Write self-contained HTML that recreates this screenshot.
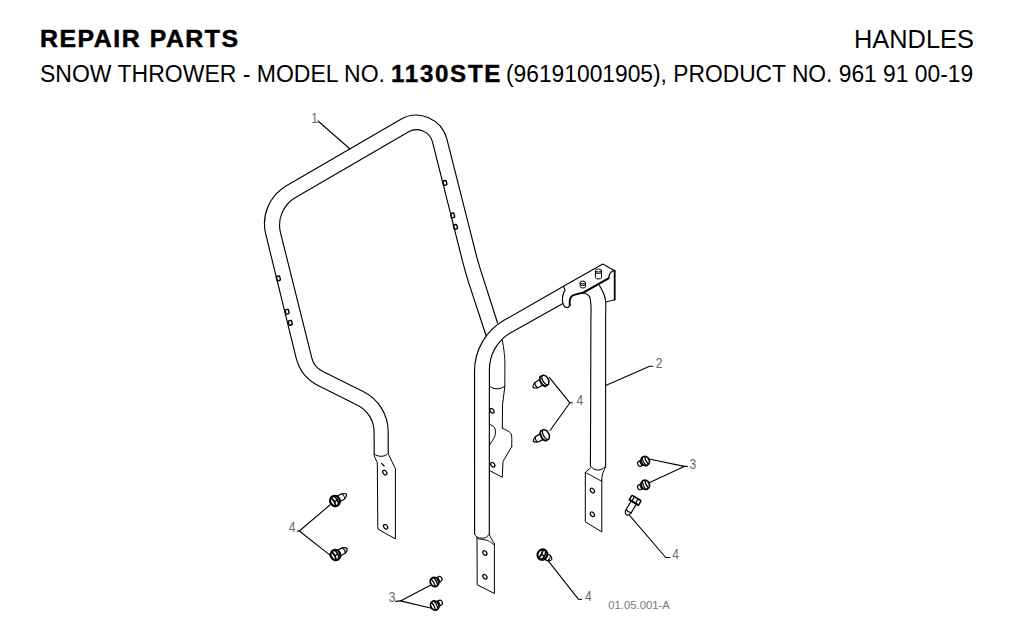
<!DOCTYPE html>
<html><head><meta charset="utf-8"><style>
html,body{margin:0;padding:0;background:#fff;}
body{width:1024px;height:631px;position:relative;overflow:hidden;font-family:"Liberation Sans",sans-serif;color:#000;}
.t{position:absolute;white-space:nowrap;line-height:1;transform-origin:0 0;}
</style></head><body>
<div class="t" id="rp" style="left:40px;top:27.4px;font-size:24.4px;font-weight:bold;letter-spacing:1.48px;transform:scaleX(1.02);-webkit-text-stroke:0.5px #000;">REPAIR PARTS</div>
<div class="t" id="hd" style="left:853.5px;top:27px;font-size:25px;transform:scaleX(1.015)">HANDLES</div>
<div class="t" id="l2a" style="left:40px;top:63px;font-size:23px;transform:scaleX(1.0)">SNOW THROWER - MODEL NO.</div>
<div class="t" id="l2b" style="left:391px;top:63px;font-size:23px;font-weight:bold;letter-spacing:1.6px;transform:scaleX(1.05);-webkit-text-stroke:0.4px #000;">1130STE</div>
<div class="t" id="l2c" style="left:506px;top:63px;font-size:23px;transform:scaleX(0.991)">(96191001905), PRODUCT NO. 961 91 00-19</div>
<svg width="1024" height="631" viewBox="0 0 1024 631" style="position:absolute;left:0;top:0">
<g fill="none" stroke="#000" stroke-linecap="round" stroke-linejoin="round">
<path d="M374.20,455.00 L374.09,431.86 A30.00,30.00 0 0 0 357.48,405.16 L318.62,385.79 A43.00,43.00 0 0 1 296.05,357.56 L265.76,234.21 A44.00,44.00 0 0 1 286.41,185.66 L400.50,119.45 A31.50,31.50 0 0 1 446.85,138.96 L475.70,252.93 A300.00,300.00 0 0 0 480.86,270.91 L497.50,322.80" stroke-width="1.15"/>
<path d="M388.20,453.00 L388.20,431.83 A45.00,45.00 0 0 0 363.17,391.50 L322.39,371.30 A20.00,20.00 0 0 1 311.86,358.23 L280.53,232.85 A32.00,32.00 0 0 1 295.52,197.42 L408.27,131.99 A16.50,16.50 0 0 1 432.55,142.23 L462.91,262.72 A300.00,300.00 0 0 0 468.81,283.07 L486.20,336.00" stroke-width="1.15"/>
<path d="M374.2,454.2 C375.1,454.7 376.0,455.3 377.0,455.6 C378.2,456.0 379.7,456.3 381.0,456.3 C382.3,456.3 383.8,456.1 385.0,455.6 C386.2,455.1 387.3,454.0 388.4,453.2" stroke-width="1.00"/>
<path d="M374.3,456.0 L377.3,462.8 L377.8,529.0 L395.4,538.9 L395.4,468.8 L388.6,454.5" stroke-width="1.00"/>
<path d="M381.6,463.4 L384.2,466.0" stroke-width="1.15"/>
<path d="M502.4,340.4 C503.0,344.4 503.8,348.7 504.2,352.3 C504.5,355.3 504.7,357.1 504.8,360.6 C505.0,366.7 504.8,377.3 504.8,385.6" stroke-width="1.00"/>
<path d="M489.6,386.2 C490.7,386.9 491.8,387.8 493.0,388.2 C494.3,388.6 495.8,388.7 497.1,388.7 C498.4,388.7 499.7,388.6 501.0,388.2 C502.3,387.8 503.5,386.9 504.8,386.2" stroke-width="1.00"/>
<path d="M504.8,386.6 L502.5,405.0 L502.3,428.2" stroke-width="1.00"/>
<path d="M502.3,428.2 C503.9,429.0 505.5,429.6 507.0,430.5 C508.4,431.4 510.1,432.1 511.0,433.8 C512.4,436.5 511.5,442.2 511.8,446.4" stroke-width="1.00"/>
<path d="M511.8,446.4 L503.0,461.5 L502.3,477.3 L490.4,471.0" stroke-width="1.00"/>
<path d="M489.6,424.3 C491.2,425.3 493.4,425.8 494.4,427.4 C495.5,429.3 495.7,432.6 495.1,435.3 C494.4,438.5 491.4,441.7 489.6,444.9" stroke-width="1.00"/>
<path d="M563.50,286.20 L503.99,320.37 C485.70,330.87 474.51,350.22 474.52,371.30 L474.60,534.00" stroke-width="1.15"/>
<path d="M562.40,303.70 L511.20,332.46 C497.68,340.05 489.39,354.20 489.39,369.70 L489.30,533.50" stroke-width="1.15"/>
<path d="M474.6,534.0 C475.4,535.1 475.9,536.5 477.0,537.2 C478.4,538.0 480.8,538.3 482.5,538.2 C483.9,538.2 485.4,537.9 486.5,537.2 C487.6,536.5 488.4,535.1 489.3,534.0" stroke-width="1.00"/>
<path d="M477.0,537.2 L477.2,584.8 L494.4,593.5 L494.4,543.6" stroke-width="1.00"/>
<path d="M489.3,534.5 C490.0,536.0 490.7,537.5 491.5,539.0 C492.4,540.5 493.4,542.1 494.4,543.6" stroke-width="1.00"/>
<path d="M477.7,538.8 C479.1,539.0 480.5,539.1 482.0,539.4 C483.8,539.7 486.1,539.8 488.0,540.6 C490.2,541.5 492.3,543.6 494.4,545.1" stroke-width="0.90"/>
<path d="M583.3,292.6 C585.2,293.7 587.7,294.2 589.0,295.9 C590.5,297.9 590.5,301.2 590.9,304.5 C591.4,308.9 590.9,312.2 590.9,320.0 C590.9,343.9 590.6,417.3 590.4,466.0" stroke-width="1.10"/>
<path d="M599.5,285.4 C601.1,288.6 603.2,292.2 604.2,295.0 C605.0,297.1 605.3,298.2 605.6,300.7 C606.1,305.2 605.6,310.6 605.6,320.0 C605.6,346.0 605.6,417.3 605.6,466.0" stroke-width="1.10"/>
<path d="M590.4,466.0 C591.6,467.1 592.7,468.5 594.0,469.2 C595.2,469.8 596.7,470.0 598.0,470.0 C599.3,470.0 600.8,469.8 602.0,469.2 C603.3,468.5 604.4,467.1 605.6,466.0" stroke-width="1.00"/>
<path d="M590.4,468.0 L585.3,472.4 L585.3,521.8 L601.8,531.9 L601.8,480.0" stroke-width="1.00"/>
<path d="M585.3,472.4 L601.8,481.3" stroke-width="0.90"/>
<path d="M605.6,467.0 C604.6,469.3 603.1,471.7 602.5,474.0 C601.9,476.0 602.0,478.0 601.8,480.0" stroke-width="1.00"/>
<path d="M563.5,286.2 L602.8,264.0 L614.7,270.7" stroke-width="1.10"/>
<path d="M614.7,270.7 L614.7,299.7" stroke-width="1.80"/>
<path d="M614.7,299.7 L605.6,302.1" stroke-width="1.00"/>
<path d="M563.5,286.2 L565.2,290.2 L563.8,292.2" stroke-width="1.10"/>
<path d="M563.8,292.2 C563.4,293.6 562.8,294.9 562.6,296.5 C562.4,298.5 562.3,301.4 562.8,303.2 C563.2,304.7 564.0,306.1 565.0,306.8 C565.8,307.4 567.3,307.7 568.1,307.4 C568.9,307.1 569.2,305.9 569.8,305.2" stroke-width="1.20"/>
<path d="M569.8,305.2 C569.8,303.4 569.5,301.4 569.9,299.8 C570.2,298.5 570.7,297.3 571.5,296.4 C572.4,295.5 573.5,295.1 575.0,294.6 C577.1,293.8 580.5,293.3 583.3,292.6" stroke-width="1.90"/>
<path d="M583.3,292.6 L608.5,278.3" stroke-width="2.10"/>
<path d="M608.5,278.3 C609.0,276.7 609.2,274.7 610.0,273.5 C610.6,272.5 611.5,271.7 612.3,271.2 C613.0,270.8 613.9,270.9 614.7,270.7" stroke-width="1.30"/>
<ellipse cx="384.8" cy="472.6" rx="1.75" ry="2.6" stroke-width="1.2" transform="rotate(-38 384.8 472.6)"/>
<ellipse cx="385.6" cy="526.8" rx="1.75" ry="2.6" stroke-width="1.2" transform="rotate(-38 385.6 526.8)"/>
<ellipse cx="492.0" cy="410.8" rx="1.75" ry="2.6" stroke-width="1.2" transform="rotate(-38 492.0 410.8)"/>
<ellipse cx="492.8" cy="464.7" rx="1.75" ry="2.6" stroke-width="1.2" transform="rotate(-38 492.8 464.7)"/>
<ellipse cx="484.9" cy="553.0" rx="1.75" ry="2.6" stroke-width="1.2" transform="rotate(-38 484.9 553.0)"/>
<ellipse cx="484.9" cy="576.8" rx="1.75" ry="2.6" stroke-width="1.2" transform="rotate(-38 484.9 576.8)"/>
<ellipse cx="592.4" cy="490.6" rx="1.75" ry="2.6" stroke-width="1.2" transform="rotate(-38 592.4 490.6)"/>
<ellipse cx="592.4" cy="514.2" rx="1.75" ry="2.6" stroke-width="1.2" transform="rotate(-38 592.4 514.2)"/>
<rect x="443.2" y="180.7" width="3.4" height="4.4" rx="0.7" stroke-width="1.4" transform="rotate(-14 445.0 183.0)"/>
<rect x="451.0" y="213.2" width="3.4" height="4.4" rx="0.7" stroke-width="1.4" transform="rotate(-14 452.8 215.5)"/>
<rect x="453.8" y="224.7" width="3.4" height="4.4" rx="0.7" stroke-width="1.4" transform="rotate(-14 455.6 227.0)"/>
<rect x="276.7" y="276.2" width="3.4" height="4.4" rx="0.7" stroke-width="1.4" transform="rotate(-14 278.5 278.5)"/>
<rect x="285.4" y="309.5" width="3.4" height="4.4" rx="0.7" stroke-width="1.4" transform="rotate(-14 287.2 311.8)"/>
<rect x="288.6" y="320.6" width="3.4" height="4.4" rx="0.7" stroke-width="1.4" transform="rotate(-14 290.4 322.9)"/>
<path d="M580.2,282.5 L580.2,286.5 A2.6,1.5 0 0 0 585.5,286.5 L585.5,282.5" stroke-width="1"/>
<ellipse cx="582.9" cy="282.5" rx="2.6" ry="1.5" stroke-width="1"/>
<path d="M580.2,284.1 A2.6,1.5 0 0 0 585.5,284.1" stroke-width="0.9"/>
<path d="M595.5,270.5 L595.5,277.5 A3.0,1.5 0 0 0 601.5,277.5 L601.5,270.5" stroke-width="1"/>
<ellipse cx="598.5" cy="270.5" rx="3.0" ry="1.5" stroke-width="1"/>
<path d="M595.5,272.1 A3.0,1.5 0 0 0 601.5,272.1" stroke-width="0.9"/>
<path d="M318.0,121.0 L350.0,149.0" stroke-width="1.10"/>
<path d="M606.3,385.3 L649.6,366.3 L652.8,366.3" stroke-width="1.10"/>
<path d="M329.9,505.0 L299.3,531.0 L330.6,555.6" stroke-width="1.10"/>
<path d="M297.1,531.0 L299.3,531.0" stroke-width="1.10"/>
<path d="M549.3,377.4 L569.9,402.8 L550.1,430.5" stroke-width="1.10"/>
<path d="M569.9,402.8 L572.3,402.8" stroke-width="1.10"/>
<path d="M649.2,459.0 L684.2,466.4 L648.1,483.3" stroke-width="1.10"/>
<path d="M684.2,466.4 L687.3,466.4" stroke-width="1.10"/>
<path d="M629.6,515.3 L665.7,557.5 L669.8,557.5" stroke-width="1.10"/>
<path d="M430.4,585.2 L400.5,600.9 L430.4,608.0" stroke-width="1.10"/>
<path d="M395.7,601.4 L400.5,600.9" stroke-width="1.10"/>
<path d="M547.9,560.4 L578.3,599.1 L581.5,599.5" stroke-width="1.10"/>
<g transform="translate(335.0 501.0) rotate(-30.0)"><g transform="scale(1.00 1)"><path d="M3,-3.1 L8.8,-3 C11,-2.6 13,-0.8 13.4,0 C13,0.8 11,2.8 8.8,3.1 L3,3.2" fill="#fff" stroke-width="1.2"/><path d="M9.6,-2.8 C10.6,-1 10.6,1 9.6,2.9" stroke-width="1.1"/></g><ellipse cx="0" cy="0" rx="4.8" ry="5.2" fill="#fff" stroke-width="2.2"/><path d="M-1.8,-4.6 C-0.8,-2 -0.8,2 -1.8,4.6" stroke-width="1.7"/><path d="M1.6,-4.4 C2.6,-2 2.6,2 1.6,4.4" stroke-width="1.7"/><path d="M-1.2,0.3 L2.2,0.3" stroke-width="1.3"/></g>
<g transform="translate(335.5 555.0) rotate(-29.0)"><g transform="scale(1.00 1)"><path d="M3,-3.1 L8.8,-3 C11,-2.6 13,-0.8 13.4,0 C13,0.8 11,2.8 8.8,3.1 L3,3.2" fill="#fff" stroke-width="1.2"/><path d="M9.6,-2.8 C10.6,-1 10.6,1 9.6,2.9" stroke-width="1.1"/></g><ellipse cx="0" cy="0" rx="4.8" ry="5.2" fill="#fff" stroke-width="2.2"/><path d="M-1.8,-4.6 C-0.8,-2 -0.8,2 -1.8,4.6" stroke-width="1.7"/><path d="M1.6,-4.4 C2.6,-2 2.6,2 1.6,4.4" stroke-width="1.7"/><path d="M-1.2,0.3 L2.2,0.3" stroke-width="1.3"/></g>
<g transform="translate(544.5 380.5) rotate(150.0)"><g transform="scale(1.00 1)"><path d="M3,-3.1 L8.8,-3 C11,-2.6 13,-0.8 13.4,0 C13,0.8 11,2.8 8.8,3.1 L3,3.2" fill="#fff" stroke-width="1.2"/><path d="M9.6,-2.8 C10.6,-1 10.6,1 9.6,2.9" stroke-width="1.1"/></g><path d="M-1.5,-5.4 L2.2,-5.6 L4.2,-3 L4.2,3 L2,5.6 L-1.8,5.2 L-3.8,2.5 L-3.8,-2.5 Z" fill="#fff" stroke-width="1.5"/><path d="M0.2,-5.2 C2,-3 2,3 0.2,5.2" stroke-width="1.3"/><path d="M2.4,-5 C4,-3 4,3 2.4,5" stroke-width="1.0"/></g>
<g transform="translate(545.0 435.0) rotate(152.0)"><g transform="scale(1.00 1)"><path d="M3,-3.1 L8.8,-3 C11,-2.6 13,-0.8 13.4,0 C13,0.8 11,2.8 8.8,3.1 L3,3.2" fill="#fff" stroke-width="1.2"/><path d="M9.6,-2.8 C10.6,-1 10.6,1 9.6,2.9" stroke-width="1.1"/></g><path d="M-1.5,-5.4 L2.2,-5.6 L4.2,-3 L4.2,3 L2,5.6 L-1.8,5.2 L-3.8,2.5 L-3.8,-2.5 Z" fill="#fff" stroke-width="1.5"/><path d="M0.2,-5.2 C2,-3 2,3 0.2,5.2" stroke-width="1.3"/><path d="M2.4,-5 C4,-3 4,3 2.4,5" stroke-width="1.0"/></g>
<g transform="translate(635.2 500.2) rotate(121.0)"><path d="M2.5,-3 L13.5,-3 C15.5,-2.5 17,-1 17,0 C17,1 15.5,2.5 13.5,3 L2.5,3" fill="#fff" stroke-width="1.2"/><path d="M12.8,-2.9 C13.8,-1 13.8,1 12.8,2.9" stroke-width="1.2"/><rect x="-2.6" y="-5.4" width="5.2" height="10.8" rx="1" fill="#fff" stroke-width="1.5"/><path d="M2.6,-5 L2.6,5" stroke-width="2"/><path d="M-2.4,-1.8 L2.4,-1.8 M-2.4,2.4 L2.4,2.4" stroke-width="1.2"/></g>
<g transform="translate(542.4 554.6) rotate(28.0)"><g transform="scale(0.80 1)"><path d="M3,-3.1 L8.8,-3 C11,-2.6 13,-0.8 13.4,0 C13,0.8 11,2.8 8.8,3.1 L3,3.2" fill="#fff" stroke-width="1.2"/><path d="M9.6,-2.8 C10.6,-1 10.6,1 9.6,2.9" stroke-width="1.1"/></g><ellipse cx="0" cy="0" rx="4.8" ry="5.2" fill="#fff" stroke-width="2.2"/><path d="M-1.8,-4.6 C-0.8,-2 -0.8,2 -1.8,4.6" stroke-width="1.7"/><path d="M1.6,-4.4 C2.6,-2 2.6,2 1.6,4.4" stroke-width="1.7"/><path d="M-1.2,0.3 L2.2,0.3" stroke-width="1.3"/></g>
<g transform="translate(645.2 461.0) rotate(153.0)"><path d="M2.5,-2.6 L6.2,-2.6 C7.6,-2.4 8.2,-1.2 8.2,0 C8.2,1.2 7.6,2.4 6.2,2.6 L2.5,2.6" fill="#fff" stroke-width="1.2"/><path d="M5,-2.5 L5,2.5" stroke-width="1.1"/><ellipse cx="0" cy="0" rx="4.1" ry="4.7" fill="#fff" stroke-width="1.8"/><path d="M-1.4,-4 C-0.6,-1.5 -0.6,1.5 -1.4,4" stroke-width="1.3"/><path d="M1.4,-3.8 C2.2,-1.5 2.2,1.5 1.4,3.8" stroke-width="1.3"/></g>
<g transform="translate(645.3 484.8) rotate(155.0)"><path d="M2.5,-2.6 L6.2,-2.6 C7.6,-2.4 8.2,-1.2 8.2,0 C8.2,1.2 7.6,2.4 6.2,2.6 L2.5,2.6" fill="#fff" stroke-width="1.2"/><path d="M5,-2.5 L5,2.5" stroke-width="1.1"/><ellipse cx="0" cy="0" rx="4.1" ry="4.7" fill="#fff" stroke-width="1.8"/><path d="M-1.4,-4 C-0.6,-1.5 -0.6,1.5 -1.4,4" stroke-width="1.3"/><path d="M1.4,-3.8 C2.2,-1.5 2.2,1.5 1.4,3.8" stroke-width="1.3"/></g>
<g transform="translate(434.5 582.0) rotate(-30.0)"><path d="M2.5,-2.6 L6.2,-2.6 C7.6,-2.4 8.2,-1.2 8.2,0 C8.2,1.2 7.6,2.4 6.2,2.6 L2.5,2.6" fill="#fff" stroke-width="1.2"/><path d="M5,-2.5 L5,2.5" stroke-width="1.1"/><ellipse cx="0" cy="0" rx="4.1" ry="4.7" fill="#fff" stroke-width="1.8"/><path d="M-1.4,-4 C-0.6,-1.5 -0.6,1.5 -1.4,4" stroke-width="1.3"/><path d="M1.4,-3.8 C2.2,-1.5 2.2,1.5 1.4,3.8" stroke-width="1.3"/></g>
<g transform="translate(434.8 605.5) rotate(-27.0)"><path d="M2.5,-2.6 L6.2,-2.6 C7.6,-2.4 8.2,-1.2 8.2,0 C8.2,1.2 7.6,2.4 6.2,2.6 L2.5,2.6" fill="#fff" stroke-width="1.2"/><path d="M5,-2.5 L5,2.5" stroke-width="1.1"/><ellipse cx="0" cy="0" rx="4.1" ry="4.7" fill="#fff" stroke-width="1.8"/><path d="M-1.4,-4 C-0.6,-1.5 -0.6,1.5 -1.4,4" stroke-width="1.3"/><path d="M1.4,-3.8 C2.2,-1.5 2.2,1.5 1.4,3.8" stroke-width="1.3"/></g>
</g>
<g font-family="Liberation Sans, sans-serif" font-size="14" fill="#6a6a6a">
<text transform="translate(311.3 123.1) scale(0.86 1)">1</text>
<text transform="translate(655.8 368.4) scale(0.86 1)">2</text>
<text transform="translate(288.8 532.4) scale(0.86 1)">4</text>
<text transform="translate(576.6 404.8) scale(0.86 1)">4</text>
<text transform="translate(689.6 468.6) scale(0.86 1)">3</text>
<text transform="translate(672.2 559.4) scale(0.86 1)">4</text>
<text transform="translate(388.8 602.4) scale(0.86 1)">3</text>
<text transform="translate(585.0 601.4) scale(0.86 1)">4</text>
<text x="608.3" y="609.1" font-size="11.3" fill="#7a7a7a">01.05.001-A</text>
</g>
</svg>
</body></html>
